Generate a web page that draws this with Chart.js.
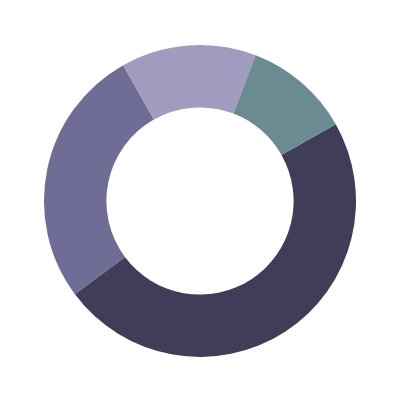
<!DOCTYPE html>
<html>
<head>
<meta charset="utf-8">
<script src="https://cdn.jsdelivr.net/npm/chart.js@4"></script>
<style>
  html, body { margin: 0; padding: 0; background: #fff; }
  #wrap { width: 400px; height: 400px; }
</style>
</head>
<body>
<div id="wrap"><canvas id="myChart" width="400" height="400"></canvas></div>
<script>
// ── Data ─────────────────────────────────────────────────────────────────────
const labels = ["A", "B", "C", "D"];
const values = [48, 27, 14, 11];
const colors = ["#403d58", "#6f6c95", "#a09cc0", "#6b8a92"];

// ── Chart ────────────────────────────────────────────────────────────────────
new Chart(document.getElementById("myChart").getContext("2d"), {
  type: "doughnut",
  data: {
    labels,
    datasets: [{ data: values, backgroundColor: colors, borderWidth: 0 }],
  },
  options: {
    responsive: false,
    animation: false,
    rotation: 60.5,
    cutout: "60%",
    layout: { padding: { left: 43, right: 43, top: 45, bottom: 43 } },
    plugins: { legend: { display: false }, tooltip: { enabled: false } },
  },
});
</script>
</body>
</html>
